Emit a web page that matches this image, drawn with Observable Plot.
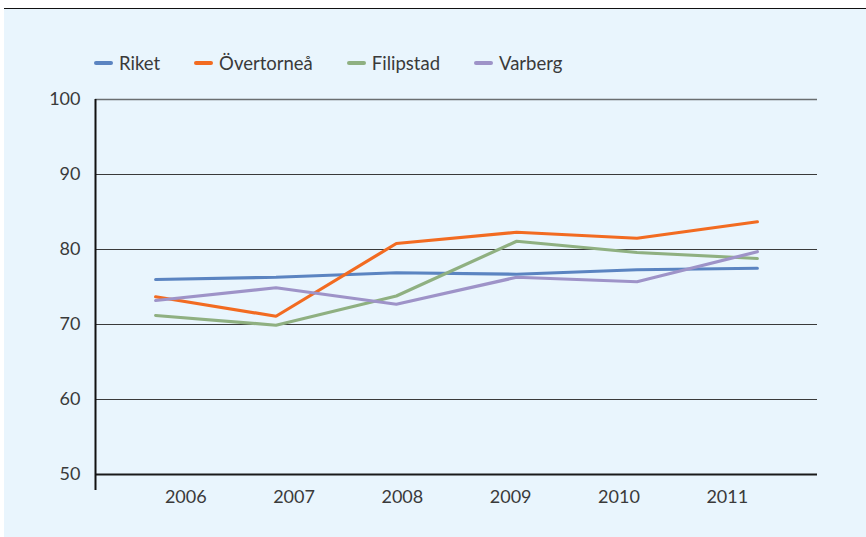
<!DOCTYPE html>
<html>
<head>
<meta charset="utf-8">
<script src="https://cdn.jsdelivr.net/npm/d3@7"></script>
<script src="https://cdn.jsdelivr.net/npm/@observablehq/plot@0.6"></script>
<style>
  html, body { margin: 0; padding: 0; background: #ffffff; }
  body { width: 866px; height: 537px; position: relative; overflow: hidden; font-family: Lato, "Open Sans", sans-serif; font-weight: 400; }
  #panel { position: absolute; left: 4px; top: 8px; width: 862px; height: 529px; border-top: 1.5px solid #111; background: #e9f5fd; }
  #legend { position: absolute; left: 94px; top: 52px; display: flex; align-items: center; font-size: 18.5px; color: #3a3a3a; }
  .item { display: flex; align-items: center; margin-right: 34px; }
  .sw { width: 19px; height: 3.5px; border-radius: 2px; margin-right: 6px; }
  #chart { position: absolute; left: 0; top: 80px; }
</style>
</head>
<body>
<div id="panel"></div>
<div id="legend"></div>
<div id="chart"></div>
<script>
const years = [2006, 2007, 2008, 2009, 2010, 2011];
const seriesNames = ["Riket", "Övertorneå", "Filipstad", "Varberg"];
const colors = ["#5b84c1", "#f26b21", "#8fb081", "#9e93c8"];
const riket = [76.0, 76.3, 76.9, 76.7, 77.3, 77.5];
const overtornea = [73.7, 71.1, 80.8, 82.3, 81.5, 83.7];
const filipstad = [71.2, 69.9, 73.8, 81.1, 79.6, 78.8];
const varberg = [73.2, 74.9, 72.7, 76.3, 75.7, 79.7];
const yTicks = [50, 60, 70, 80, 90, 100];
const xLabels = ["2006", "2007", "2008", "2009", "2010", "2011"];

const allValues = [riket, overtornea, filipstad, varberg];
const data = [];
seriesNames.forEach((name, s) => {
  years.forEach((yr, i) => data.push({ series: name, year: yr, value: allValues[s][i] }));
});

// legend
const legend = document.getElementById("legend");
seriesNames.forEach((name, i) => {
  const it = document.createElement("div");
  it.className = "item";
  const sw = document.createElement("div");
  sw.className = "sw";
  sw.style.background = colors[i];
  const tx = document.createElement("span");
  tx.textContent = name;
  it.appendChild(sw);
  it.appendChild(tx);
  legend.appendChild(it);
});

// category labels sit slightly inward from the data positions, as in the original layout
const mid = (years[0] + years[years.length - 1]) / 2;
const labelData = years.map((yr, i) => ({ pos: mid + 0.9 * (yr - mid), label: xLabels[i] }));

const chart = Plot.plot({
  width: 866,
  height: 457,
  marginLeft: 95,
  marginRight: 49,
  marginTop: 19,
  marginBottom: 63,
  style: { background: "transparent", fontFamily: "Lato, 'Open Sans', sans-serif", fontWeight: 400, overflow: "visible" },
  x: { domain: [years[0] - 0.5, years[years.length - 1] + 0.5], axis: null },
  y: { domain: [50, 100] },
  color: { domain: seriesNames, range: colors },
  marks: [
    Plot.ruleY(yTicks.filter(t => t > 50 && t < 100), { stroke: "#3a3a3a", strokeWidth: 1 }),
    Plot.ruleY([100], { stroke: "#6a6e70", strokeWidth: 1.5 }),
    Plot.ruleY([50], { stroke: "#1a1a1a", strokeWidth: 2 }),
    Plot.ruleX([years[0] - 0.5], { y1: 100, y2: 50, stroke: "#111", strokeWidth: 2, insetBottom: -16 }),
    Plot.axisY({ ticks: yTicks, tickSize: 0, tickPadding: 15, fontSize: 18, fill: "#3a3a3a", label: null }),
    Plot.text(labelData, { x: "pos", y: () => 50, text: "label", dy: 23, fontSize: 18, fill: "#3a3a3a", textAnchor: "middle", lineAnchor: "middle" }),
    Plot.line(data, { x: "year", y: "value", z: "series", stroke: "series", strokeWidth: 3.2, strokeLinejoin: "miter", strokeLinecap: "round" })
  ]
});
document.getElementById("chart").appendChild(chart);
</script>
</body>
</html>
